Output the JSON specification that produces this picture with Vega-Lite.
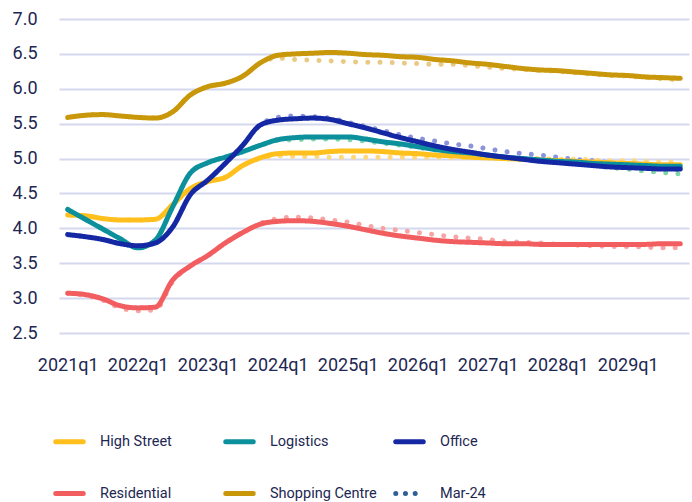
{
  "$schema": "https://vega.github.io/schema/vega-lite/v6.json",
  "width": 630,
  "height": 314,
  "autosize": "none",
  "padding": {"left": 59, "top": 19, "right": 3, "bottom": 169},
  "background": "white",
  "config": {
    "view": {"stroke": null},
    "font": "Roboto",
    "axis": {
      "labelFont": "Roboto",
      "labelColor": "#1d2752",
      "labelFontSize": 18,
      "labelOverlap": false,
      "domain": false,
      "ticks": false,
      "title": null
    },
    "axisX": {"labelAngle": 0, "labelPadding": 23, "grid": false},
    "axisY": {"labelPadding": 22, "grid": true, "gridColor": "#d3d8ee", "gridWidth": 2},
    "legend": {
      "labelFont": "Roboto",
      "labelColor": "#1d2752",
      "labelFontSize": 14.5
    }
  },
  "datasets": {
    "current": [
      {"q": "2021q1", "High Street": 4.19, "Logistics": 4.27, "Office": 3.91, "Residential": 3.07, "Shopping Centre": 5.59},
      {"q": "2021q2", "High Street": 4.18, "Logistics": 4.13, "Office": 3.88, "Residential": 3.05, "Shopping Centre": 5.62},
      {"q": "2021q3", "High Street": 4.14, "Logistics": 3.99, "Office": 3.84, "Residential": 2.99, "Shopping Centre": 5.63},
      {"q": "2021q4", "High Street": 4.12, "Logistics": 3.85, "Office": 3.78, "Residential": 2.89, "Shopping Centre": 5.61},
      {"q": "2022q1", "High Street": 4.12, "Logistics": 3.72, "Office": 3.75, "Residential": 2.86, "Shopping Centre": 5.59},
      {"q": "2022q2", "High Street": 4.13, "Logistics": 3.83, "Office": 3.79, "Residential": 2.87, "Shopping Centre": 5.58},
      {"q": "2022q3", "High Street": 4.34, "Logistics": 4.31, "Office": 4.02, "Residential": 3.26, "Shopping Centre": 5.67},
      {"q": "2022q4", "High Street": 4.57, "Logistics": 4.79, "Office": 4.48, "Residential": 3.46, "Shopping Centre": 5.91},
      {"q": "2023q1", "High Street": 4.67, "Logistics": 4.94, "Office": 4.69, "Residential": 3.61, "Shopping Centre": 6.03},
      {"q": "2023q2", "High Street": 4.73, "Logistics": 5.02, "Office": 4.93, "Residential": 3.79, "Shopping Centre": 6.08},
      {"q": "2023q3", "High Street": 4.90, "Logistics": 5.10, "Office": 5.19, "Residential": 3.94, "Shopping Centre": 6.18},
      {"q": "2023q4", "High Street": 5.01, "Logistics": 5.19, "Office": 5.48, "Residential": 4.06, "Shopping Centre": 6.37},
      {"q": "2024q1", "High Street": 5.07, "Logistics": 5.27, "Office": 5.55, "Residential": 4.10, "Shopping Centre": 6.48},
      {"q": "2024q2", "High Street": 5.08, "Logistics": 5.30, "Office": 5.57, "Residential": 4.11, "Shopping Centre": 6.50},
      {"q": "2024q3", "High Street": 5.08, "Logistics": 5.31, "Office": 5.58, "Residential": 4.10, "Shopping Centre": 6.51},
      {"q": "2024q4", "High Street": 5.10, "Logistics": 5.31, "Office": 5.56, "Residential": 4.07, "Shopping Centre": 6.52},
      {"q": "2025q1", "High Street": 5.11, "Logistics": 5.31, "Office": 5.50, "Residential": 4.03, "Shopping Centre": 6.51},
      {"q": "2025q2", "High Street": 5.11, "Logistics": 5.28, "Office": 5.44, "Residential": 3.98, "Shopping Centre": 6.49},
      {"q": "2025q3", "High Street": 5.10, "Logistics": 5.24, "Office": 5.37, "Residential": 3.93, "Shopping Centre": 6.48},
      {"q": "2025q4", "High Street": 5.08, "Logistics": 5.21, "Office": 5.30, "Residential": 3.89, "Shopping Centre": 6.46},
      {"q": "2026q1", "High Street": 5.07, "Logistics": 5.17, "Office": 5.24, "Residential": 3.86, "Shopping Centre": 6.45},
      {"q": "2026q2", "High Street": 5.05, "Logistics": 5.13, "Office": 5.18, "Residential": 3.83, "Shopping Centre": 6.42},
      {"q": "2026q3", "High Street": 5.04, "Logistics": 5.10, "Office": 5.13, "Residential": 3.81, "Shopping Centre": 6.40},
      {"q": "2026q4", "High Street": 5.02, "Logistics": 5.08, "Office": 5.09, "Residential": 3.80, "Shopping Centre": 6.37},
      {"q": "2027q1", "High Street": 5.01, "Logistics": 5.05, "Office": 5.05, "Residential": 3.79, "Shopping Centre": 6.35},
      {"q": "2027q2", "High Street": 5.00, "Logistics": 5.02, "Office": 5.02, "Residential": 3.78, "Shopping Centre": 6.32},
      {"q": "2027q3", "High Street": 4.99, "Logistics": 5.00, "Office": 4.99, "Residential": 3.78, "Shopping Centre": 6.29},
      {"q": "2027q4", "High Street": 4.98, "Logistics": 4.98, "Office": 4.96, "Residential": 3.77, "Shopping Centre": 6.27},
      {"q": "2028q1", "High Street": 4.97, "Logistics": 4.96, "Office": 4.94, "Residential": 3.77, "Shopping Centre": 6.26},
      {"q": "2028q2", "High Street": 4.96, "Logistics": 4.95, "Office": 4.92, "Residential": 3.77, "Shopping Centre": 6.24},
      {"q": "2028q3", "High Street": 4.95, "Logistics": 4.93, "Office": 4.90, "Residential": 3.77, "Shopping Centre": 6.22},
      {"q": "2028q4", "High Street": 4.94, "Logistics": 4.92, "Office": 4.88, "Residential": 3.77, "Shopping Centre": 6.20},
      {"q": "2029q1", "High Street": 4.93, "Logistics": 4.91, "Office": 4.87, "Residential": 3.77, "Shopping Centre": 6.19},
      {"q": "2029q2", "High Street": 4.92, "Logistics": 4.90, "Office": 4.86, "Residential": 3.77, "Shopping Centre": 6.17},
      {"q": "2029q3", "High Street": 4.91, "Logistics": 4.89, "Office": 4.85, "Residential": 3.78, "Shopping Centre": 6.16},
      {"q": "2029q4", "High Street": 4.91, "Logistics": 4.89, "Office": 4.85, "Residential": 3.78, "Shopping Centre": 6.15}
    ],
    "mar24": [
      {"q": "2021q1", "High Street": 4.19, "Logistics": 4.27, "Office": 3.91, "Residential": 3.07, "Shopping Centre": 5.59},
      {"q": "2021q2", "High Street": 4.18, "Logistics": 4.13, "Office": 3.88, "Residential": 3.04, "Shopping Centre": 5.62},
      {"q": "2021q3", "High Street": 4.14, "Logistics": 3.99, "Office": 3.84, "Residential": 2.97, "Shopping Centre": 5.63},
      {"q": "2021q4", "High Street": 4.12, "Logistics": 3.85, "Office": 3.78, "Residential": 2.86, "Shopping Centre": 5.61},
      {"q": "2022q1", "High Street": 4.12, "Logistics": 3.72, "Office": 3.75, "Residential": 2.82, "Shopping Centre": 5.59},
      {"q": "2022q2", "High Street": 4.13, "Logistics": 3.83, "Office": 3.79, "Residential": 2.83, "Shopping Centre": 5.58},
      {"q": "2022q3", "High Street": 4.34, "Logistics": 4.31, "Office": 4.02, "Residential": 3.24, "Shopping Centre": 5.67},
      {"q": "2022q4", "High Street": 4.57, "Logistics": 4.79, "Office": 4.48, "Residential": 3.46, "Shopping Centre": 5.91},
      {"q": "2023q1", "High Street": 4.67, "Logistics": 4.94, "Office": 4.69, "Residential": 3.61, "Shopping Centre": 6.03},
      {"q": "2023q2", "High Street": 4.73, "Logistics": 5.02, "Office": 4.93, "Residential": 3.79, "Shopping Centre": 6.08},
      {"q": "2023q3", "High Street": 4.90, "Logistics": 5.10, "Office": 5.19, "Residential": 3.94, "Shopping Centre": 6.18},
      {"q": "2023q4", "High Street": 5.00, "Logistics": 5.19, "Office": 5.48, "Residential": 4.07, "Shopping Centre": 6.37},
      {"q": "2024q1", "High Street": 5.04, "Logistics": 5.26, "Office": 5.59, "Residential": 4.14, "Shopping Centre": 6.44},
      {"q": "2024q2", "High Street": 5.03, "Logistics": 5.27, "Office": 5.61, "Residential": 4.16, "Shopping Centre": 6.42},
      {"q": "2024q3", "High Street": 5.03, "Logistics": 5.28, "Office": 5.60, "Residential": 4.15, "Shopping Centre": 6.41},
      {"q": "2024q4", "High Street": 5.02, "Logistics": 5.28, "Office": 5.58, "Residential": 4.12, "Shopping Centre": 6.40},
      {"q": "2025q1", "High Street": 5.02, "Logistics": 5.27, "Office": 5.52, "Residential": 4.09, "Shopping Centre": 6.39},
      {"q": "2025q2", "High Street": 5.02, "Logistics": 5.25, "Office": 5.46, "Residential": 4.04, "Shopping Centre": 6.38},
      {"q": "2025q3", "High Street": 5.02, "Logistics": 5.22, "Office": 5.40, "Residential": 4.00, "Shopping Centre": 6.38},
      {"q": "2025q4", "High Street": 5.02, "Logistics": 5.19, "Office": 5.34, "Residential": 3.97, "Shopping Centre": 6.37},
      {"q": "2026q1", "High Street": 5.02, "Logistics": 5.16, "Office": 5.29, "Residential": 3.94, "Shopping Centre": 6.36},
      {"q": "2026q2", "High Street": 5.02, "Logistics": 5.12, "Office": 5.25, "Residential": 3.91, "Shopping Centre": 6.35},
      {"q": "2026q3", "High Street": 5.01, "Logistics": 5.09, "Office": 5.21, "Residential": 3.88, "Shopping Centre": 6.35},
      {"q": "2026q4", "High Street": 5.01, "Logistics": 5.06, "Office": 5.18, "Residential": 3.86, "Shopping Centre": 6.33},
      {"q": "2027q1", "High Street": 5.01, "Logistics": 5.03, "Office": 5.14, "Residential": 3.84, "Shopping Centre": 6.31},
      {"q": "2027q2", "High Street": 5.00, "Logistics": 5.00, "Office": 5.10, "Residential": 3.81, "Shopping Centre": 6.29},
      {"q": "2027q3", "High Street": 5.00, "Logistics": 4.98, "Office": 5.07, "Residential": 3.80, "Shopping Centre": 6.28},
      {"q": "2027q4", "High Street": 5.00, "Logistics": 4.96, "Office": 5.05, "Residential": 3.79, "Shopping Centre": 6.26},
      {"q": "2028q1", "High Street": 4.99, "Logistics": 4.94, "Office": 5.02, "Residential": 3.77, "Shopping Centre": 6.25},
      {"q": "2028q2", "High Street": 4.99, "Logistics": 4.92, "Office": 4.99, "Residential": 3.76, "Shopping Centre": 6.23},
      {"q": "2028q3", "High Street": 4.98, "Logistics": 4.90, "Office": 4.97, "Residential": 3.75, "Shopping Centre": 6.21},
      {"q": "2028q4", "High Street": 4.97, "Logistics": 4.87, "Office": 4.94, "Residential": 3.74, "Shopping Centre": 6.19},
      {"q": "2029q1", "High Street": 4.97, "Logistics": 4.85, "Office": 4.91, "Residential": 3.74, "Shopping Centre": 6.18},
      {"q": "2029q2", "High Street": 4.96, "Logistics": 4.82, "Office": 4.88, "Residential": 3.73, "Shopping Centre": 6.16},
      {"q": "2029q3", "High Street": 4.95, "Logistics": 4.80, "Office": 4.86, "Residential": 3.72, "Shopping Centre": 6.14},
      {"q": "2029q4", "High Street": 4.95, "Logistics": 4.78, "Office": 4.84, "Residential": 3.72, "Shopping Centre": 6.13}
    ]
  },
  "layer": [
    {
      "data": {"name": "mar24"},
      "transform": [
        {"fold": ["High Street", "Logistics", "Office", "Residential", "Shopping Centre"], "as": ["sector", "yield"]}
      ],
      "mark": {"type": "line", "interpolate": "monotone", "strokeWidth": 5, "strokeCap": "round", "strokeDash": [0.01, 12.2]},
      "encoding": {
        "x": {"field": "q", "type": "ordinal", "sort": null, "scale": {"type": "point", "padding": 0.5},
              "axis": {"values": ["2021q1", "2022q1", "2023q1", "2024q1", "2025q1", "2026q1", "2027q1", "2028q1", "2029q1"]}},
        "y": {"field": "yield", "type": "quantitative", "scale": {"domain": [2.5, 7.0], "nice": false, "zero": false},
              "axis": {"values": [2.5, 3.0, 3.5, 4.0, 4.5, 5.0, 5.5, 6.0, 6.5, 7.0], "format": ".1f"}},
        "color": {"field": "sector", "type": "nominal",
                  "scale": {"domain": ["High Street", "Logistics", "Office", "Residential", "Shopping Centre"],
                            "range": ["#ffd77c", "#80d6a6", "#8a93dc", "#f7a4a4", "#e9ca84"]},
                  "legend": null}
      }
    },
    {
      "data": {"name": "current"},
      "transform": [
        {"fold": ["High Street", "Logistics", "Office", "Residential", "Shopping Centre"], "as": ["sector", "yield"]}
      ],
      "mark": {"type": "line", "interpolate": "monotone", "strokeWidth": 5, "strokeCap": "round", "strokeJoin": "round"},
      "encoding": {
        "x": {"field": "q", "type": "ordinal", "sort": null,
              "axis": {"values": ["2021q1", "2022q1", "2023q1", "2024q1", "2025q1", "2026q1", "2027q1", "2028q1", "2029q1"]}},
        "y": {"field": "yield", "type": "quantitative",
              "axis": {"values": [2.5, 3.0, 3.5, 4.0, 4.5, 5.0, 5.5, 6.0, 6.5, 7.0], "format": ".1f"}},
        "color": {"field": "sector", "type": "nominal", "title": null,
                  "scale": {"domain": ["High Street", "Logistics", "Office", "Residential", "Shopping Centre", "Mar-24"],
                            "range": ["#ffbf1c", "#0b909c", "#1528a4", "#f25e60", "#c9970a", "#2f5f98"]},
                  "legend": {"orient": "none", "legendX": 3, "legendY": 415, "columns": 3, "direction": "horizontal",
                             "gridAlign": "all", "columnPadding": 8, "rowPadding": 31, "padding": 0,
                             "symbolType": "M-2.75,0H2.75", "symbolSize": 100, "symbolStrokeWidth": 5, "labelOffset": 23,
                             "encode": {"symbols": {"update": {"strokeCap": {"value": "round"}}}}}},
        "strokeDash": {"field": "sector", "type": "nominal", "title": null,
                       "scale": {"domain": ["High Street", "Logistics", "Office", "Residential", "Shopping Centre", "Mar-24"],
                                 "range": [[1, 0], [1, 0], [1, 0], [1, 0], [1, 0], [0.01, 9.7]]}}
      }
    }
  ],
  "resolve": {
    "scale": {"color": "independent", "strokeDash": "independent"},
    "legend": {"color": "independent", "strokeDash": "independent"}
  }
}
